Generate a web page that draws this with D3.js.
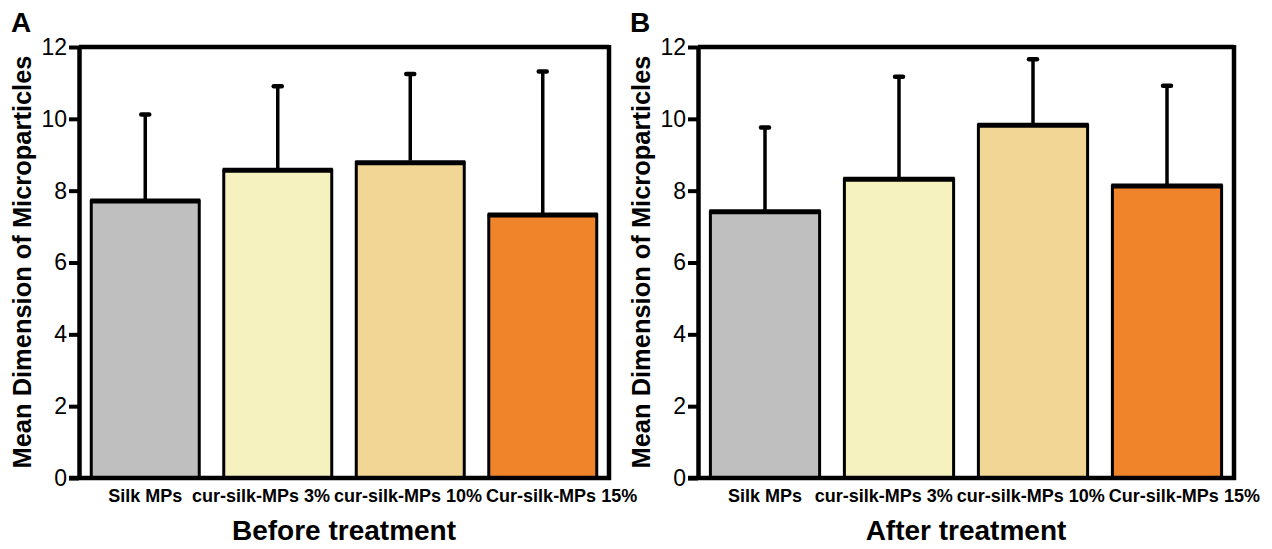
<!DOCTYPE html>
<html>
<head>
<meta charset="utf-8">
<script src="https://cdn.jsdelivr.net/npm/d3@7"></script>
<style>
  body { margin: 0; background: #fff; }
  svg { display: block; font-family: "Liberation Sans", Arial, sans-serif; }
</style>
</head>
<body>
<svg width="1272" height="549"></svg>
<script>
// values
var categories = ["Silk MPs", "cur-silk-MPs 3%", "cur-silk-MPs 10%", "Cur-silk-MPs 15%"]
var barColors = ["#bfbfbf", "#f6f2c0", "#f2d696", "#ef842b"]
var beforeMeans = [7.71, 8.57, 8.78, 7.32]
var beforeSD = [2.41, 2.34, 2.47, 4.00]
var afterMeans = [7.41, 8.32, 9.82, 8.13]
var afterSD = [2.35, 2.85, 1.84, 2.79]
var yTicks = [0, 2, 4, 6, 8, 10, 12]

var svg = d3.select('svg')

drawPanel({ letter: 'A', title: 'Before treatment', means: beforeMeans, sd: beforeSD, left: 79, right: 609, offset: 0 })
drawPanel({ letter: 'B', title: 'After treatment', means: afterMeans, sd: afterSD, left: 698, right: 1234, offset: 619 })

function drawPanel(p) {
  var top = 47, bottom = 478
  var data = categories.map(function(c, i) {
    return { name: c, mean: p.means[i], sd: p.sd[i], color: barColors[i] }
  })

  var x = d3.scaleBand().domain(categories).range([p.left, p.right])
    .paddingInner(0.185).paddingOuter(0.0925)
  var y = d3.scaleLinear().domain([0, 12]).range([bottom, top])

  var g = svg.append('g')

  // bars
  g.selectAll('rect.bar')
    .data(data)
    .enter()
    .append('rect')
    .attr('class', 'bar')
    .attr('x', function(d) { return x(d.name) })
    .attr('y', function(d) { return y(d.mean) })
    .attr('width', x.bandwidth())
    .attr('height', function(d) { return y(0) - y(d.mean) })
    .attr('fill', function(d) { return d.color })
    .attr('stroke', '#000')
    .attr('stroke-width', 3)

  // thicker top edge
  g.selectAll('line.bartop')
    .data(data)
    .enter()
    .append('line')
    .attr('x1', function(d) { return x(d.name) - 1 })
    .attr('x2', function(d) { return x(d.name) + x.bandwidth() + 1 })
    .attr('y1', function(d) { return y(d.mean) })
    .attr('y2', function(d) { return y(d.mean) })
    .attr('stroke', '#000')
    .attr('stroke-width', 5)

  // error bars (upper only)
  var cx = function(d) { return x(d.name) + x.bandwidth() / 2 }
  g.selectAll('line.err')
    .data(data)
    .enter()
    .append('line')
    .attr('x1', cx).attr('x2', cx)
    .attr('y1', function(d) { return y(d.mean) - 2 })
    .attr('y2', function(d) { return y(d.mean + d.sd) })
    .attr('stroke', '#000')
    .attr('stroke-width', 3.5)

  g.selectAll('line.cap')
    .data(data)
    .enter()
    .append('line')
    .attr('x1', function(d) { return cx(d) - 4 })
    .attr('x2', function(d) { return cx(d) + 4 })
    .attr('y1', function(d) { return y(d.mean + d.sd) })
    .attr('y2', function(d) { return y(d.mean + d.sd) })
    .attr('stroke', '#000')
    .attr('stroke-width', 4.5)
    .attr('stroke-linecap', 'round')

  // frame: top, right, bottom
  g.append('line').attr('x1', p.left).attr('x2', p.right).attr('y1', top).attr('y2', top)
    .attr('stroke', '#000').attr('stroke-width', 4.5)
  g.append('line').attr('x1', p.right).attr('x2', p.right).attr('y1', top - 2).attr('y2', bottom + 2)
    .attr('stroke', '#000').attr('stroke-width', 4.5)
  g.append('line').attr('x1', p.left - 10).attr('x2', p.right + 2).attr('y1', bottom).attr('y2', bottom)
    .attr('stroke', '#000').attr('stroke-width', 4.5)

  // y axis
  var yAxis = g.append('g')
    .attr('transform', 'translate(' + p.left + ',0)')
    .call(d3.axisLeft(y).tickValues(yTicks).tickSize(10).tickSizeOuter(0).tickPadding(2))
  yAxis.select('.domain').attr('stroke-width', 4.5)
  yAxis.selectAll('.tick line').attr('stroke-width', 4)
  yAxis.selectAll('.tick text')
    .attr('font-size', 23)
    .attr('font-family', '"Liberation Sans", Arial, sans-serif')
    .attr('fill', '#000')

  // y title
  g.append('text')
    .attr('transform', 'translate(' + (31 + p.offset) + ',' + 262 + ') rotate(-90)')
    .attr('text-anchor', 'middle')
    .attr('font-size', 25)
    .attr('font-weight', 'bold')
    .attr('textLength', 413)
    .attr('lengthAdjust', 'spacingAndGlyphs')
    .text('Mean Dimension of Microparticles')

  // category labels, spread apart where they would collide
  var labels = g.selectAll('text.cat')
    .data(data)
    .enter()
    .append('text')
    .attr('class', 'cat')
    .attr('text-anchor', 'middle')
    .attr('font-size', 18)
    .attr('font-weight', 'bold')
    .attr('y', 502)
    .text(function(d) { return d.name })

  var pos = data.map(function(d) { return cx(d) })
  var half = []
  labels.each(function() { half.push(this.getComputedTextLength() / 2) })
  for (var it = 0; it < 200; it++) {
    for (var i = 0; i < pos.length - 1; i++) {
      var need = half[i] + half[i + 1] + 4
      var gap = pos[i + 1] - pos[i]
      if (gap < need) {
        var push = (need - gap) / 2
        pos[i] -= push * 0.5
        pos[i + 1] += push * 0.5
      }
    }
  }
  labels.attr('x', function(d, i) { return pos[i] })

  // panel title
  g.append('text')
    .attr('x', (p.left + p.right) / 2)
    .attr('y', 540)
    .attr('text-anchor', 'middle')
    .attr('font-size', 28)
    .attr('font-weight', 'bold')
    .text(p.title)

  // panel letter
  g.append('text')
    .attr('x', 11 + p.offset)
    .attr('y', 32)
    .attr('font-size', 28)
    .attr('font-weight', 'bold')
    .text(p.letter)
}
</script>
</body>
</html>
